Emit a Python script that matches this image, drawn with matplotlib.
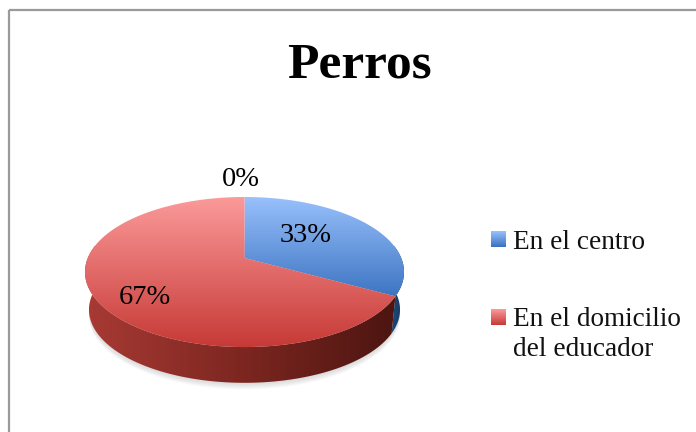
import numpy as np
from matplotlib import pyplot as plt
from matplotlib.patches import PathPatch
from matplotlib.path import Path
from matplotlib.colors import LinearSegmentedColormap

titulo = "Perros"
categorias = ["En el centro", "En el domicilio\ndel educador"]
valores = [33, 67, 0]
etiquetas = ["33%", "67%", "0%"]

plt.rcParams['font.family'] = ['Liberation Serif', 'DejaVu Serif']

# pie geometry, pixels
cx, cy = 244.5, 258
k = 0.187
ax_x, ax_y = 156.7, 72.4
depth = 38
shrink = 0.975

rojo_top = LinearSegmentedColormap.from_list("r", ["#fb9a9a", "#c63a36"])
azul_top = LinearSegmentedColormap.from_list("b", ["#98c0fc", "#3a72c0"])
rojo_side = LinearSegmentedColormap.from_list("rs", ["#a83a34", "#7c2620", "#4a1410"])
azul_side = LinearSegmentedColormap.from_list("bs", ["#1f4f84", "#173a62"])

fig = plt.figure(figsize=(6.96, 4.32), dpi=100)
ax = fig.add_axes([0, 0, 1, 1])
ax.set_xlim(0, 696)
ax.set_ylim(432, 0)
ax.axis('off')


def proj(a):
    # a in degrees clockwise from the top, circle seen in perspective
    t = np.radians(a)
    u, v = np.sin(t), np.cos(t)
    return cx + ax_x * u / (1 + k * v), cy - ax_y * v / (1 + k * v)


def lower(x, y):
    return cx + (x - cx) * shrink, cy + (y - cy) * shrink + depth


def fill(xs, ys, cmap, extent, vertical=True, z=2):
    pts = np.column_stack([xs, ys])
    patch = PathPatch(Path(np.vstack([pts, pts[0]]), closed=True), fc='none', ec='none')
    ax.add_patch(patch)
    g = np.linspace(0, 1, 256)
    g = g[:, None] if vertical else g[None, :]
    im = ax.imshow(g, cmap=cmap, extent=extent, aspect='auto', zorder=z, origin='upper',
                   vmin=0, vmax=1)
    im.set_clip_path(patch)


# soft shadow under the pie
ang = np.linspace(0, 360, 200)
x0, y0 = proj(ang)
x1, y1 = lower(x0, y0)
for i in range(8):
    ax.fill(x1, y1 + 1 + i * 0.8, color='#808080', alpha=0.035, zorder=1, lw=0)

pct = np.cumsum([0] + valores) / sum(valores) * 360
colores_top = [azul_top, rojo_top, rojo_top]
colores_side = [azul_side, rojo_side, rojo_side]
extent_side = [(385, 404, 400, 200), (85, 404, 400, 200), (85, 404, 400, 200)]

# sides, front half only
for i in range(len(valores)):
    if valores[i] == 0:
        continue
    a0, a1 = max(pct[i], 80), min(pct[i + 1], 280)
    a = np.linspace(a0, a1, 100)
    xa, ya = proj(a)
    xb, yb = lower(xa, ya)
    fill(np.r_[xa, xb[::-1]], np.r_[ya, yb[::-1]], colores_side[i], extent_side[i],
         vertical=False, z=2)

# top faces, same gradient from rear to front
alturas = [(197, 300), (197, 347), (197, 347)]
for i in range(len(valores)):
    if valores[i] == 0:
        continue
    a = np.linspace(pct[i], pct[i + 1], 200)
    xa, ya = proj(a)
    fill(np.r_[cx, xa], np.r_[cy, ya], colores_top[i],
         (80, 410, alturas[i][1], alturas[i][0]), z=3)

# chart frame
ax.plot([9, 9], [432, 10], color='#9a9a9a', lw=1.6, zorder=5, solid_capstyle='butt')
ax.plot([9, 696], [10, 10], color='#9a9a9a', lw=1.6, zorder=5, solid_capstyle='butt')

ax.text(359, 65, titulo, fontsize=37, fontweight='bold', ha='center', va='center', color='black', zorder=6)

pos_etiquetas = [(306, 236), (145, 297), (241, 179)]
for e, (x, y) in zip(etiquetas, pos_etiquetas):
    ax.text(x, y, e, fontsize=20.5, ha='center', va='center', color='black', zorder=6)

# legend, built by hand for the gradient swatches
pos_leyenda = [(491, 231), (491, 309)]
mapas = [azul_top, rojo_top]
texto_y = [230, 307]
for i, cat in enumerate(categorias):
    lx, ly = pos_leyenda[i]
    ax.imshow(np.linspace(0, 1, 32)[:, None], cmap=mapas[i], extent=(lx, lx + 15, ly + 16, ly),
              aspect='auto', zorder=6, origin='upper', vmin=0, vmax=1)
    ax.text(513, texto_y[i], cat, fontsize=19.6, ha='left', va='top', color='#111111',
            linespacing=1.27, zorder=6)

ax.set_xlim(0, 696)
ax.set_ylim(432, 0)
fig.savefig('out.png', dpi=100)
